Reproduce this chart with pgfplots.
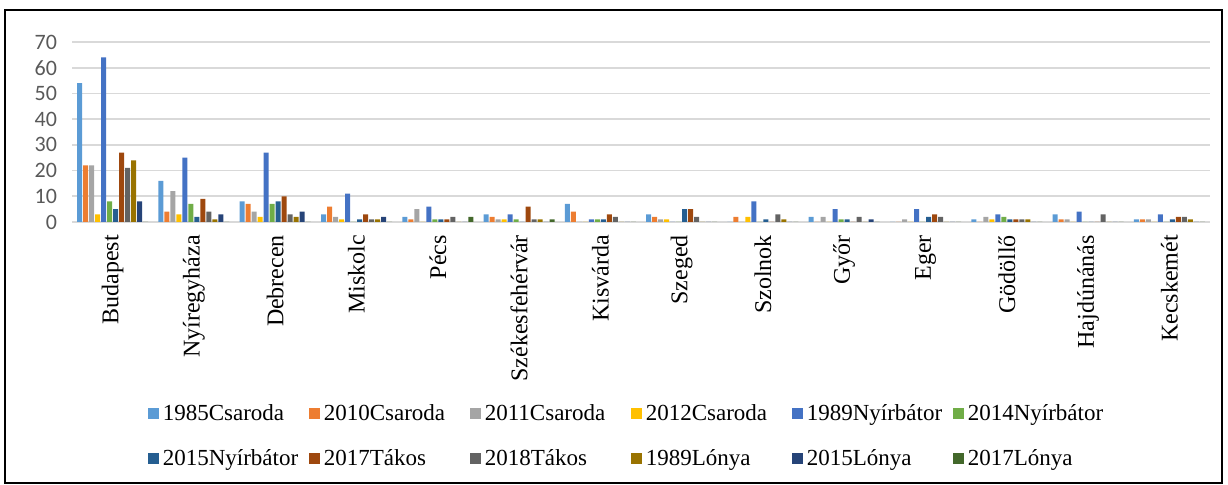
\documentclass[border=0pt]{standalone}
\usepackage{pgfplots}
\pgfplotsset{compat=1.18}
\usepackage{pgfplotstable}
\usepackage{fontspec}
\setmainfont{Liberation Serif}
\newfontfamily\tickfont{Carlito}

\definecolor{cA}{HTML}{5B9BD5}
\definecolor{cB}{HTML}{ED7D31}
\definecolor{cC}{HTML}{A5A5A5}
\definecolor{cD}{HTML}{FFC000}
\definecolor{cE}{HTML}{4472C4}
\definecolor{cF}{HTML}{70AD47}
\definecolor{cG}{HTML}{255E91}
\definecolor{cH}{HTML}{9E480E}
\definecolor{cI}{HTML}{636363}
\definecolor{cJ}{HTML}{997300}
\definecolor{cK}{HTML}{264478}
\definecolor{cL}{HTML}{43682B}
\definecolor{gridgray}{HTML}{D9D9D9}
\definecolor{tickgray}{HTML}{595959}

% columns: 1985Csaroda 2010Csaroda 2011Csaroda 2012Csaroda 1989Nyirbator 2014Nyirbator
%          2015Nyirbator 2017Takos 2018Takos 1989Lonya 2015Lonya 2017Lonya
\pgfplotstableread{
x  a  b  c  d  e  f  g  h  i  j  k  l
0  54 22 22 3  64 8  5  27 21 24 8  0
1  16 4  12 3  25 7  2  9  4  1  3  0
2  8  7  4  2  27 7  8  10 3  2  4  0
3  3  6  2  1  11 0  1  3  1  1  2  0
4  2  1  5  0  6  1  1  1  2  0  0  2
5  3  2  1  1  3  1  0  6  1  1  0  1
6  7  4  0  0  1  1  1  3  2  0  0  0
7  3  2  1  1  0  0  5  5  2  0  0  0
8  0  2  0  2  8  0  1  0  3  1  0  0
9  2  0  2  0  5  1  1  0  2  0  1  0
10 0  0  1  0  5  0  2  3  2  0  0  0
11 1  0  2  1  3  2  1  1  1  1  0  0
12 3  1  1  0  4  0  0  0  3  0  0  0
13 1  1  1  0  3  0  1  2  2  1  0  0
}\cities

\begin{document}
\begin{tikzpicture}
\begin{axis}[
    scale only axis,
    width=569pt, height=90pt,
    ybar=0.5pt, bar width=2.5pt,
    ymin=0, ymax=70, ytick={0,10,...,70},
    xmin=-0.5, xmax=13.5,
    xtick={0,...,13},
    xticklabels={Budapest,Nyíregyháza,Debrecen,Miskolc,Pécs,Székesfehérvár,Kisvárda,Szeged,Szolnok,Győr,Eger,Gödöllő,Hajdúnánás,Kecskemét},
    x tick label style={rotate=90, anchor=east, font=\fontsize{12}{14}\selectfont},
    xticklabel shift=3pt,
    y tick label style={font=\fontsize{11}{13}\selectfont\tickfont, text=tickgray},
    yticklabel shift=4pt,
    /pgf/number format/assume math mode=true,
    ymajorgrids=true,
    major grid style={gridgray, line width=0.9pt},
    axis line style={draw=none},
    major tick length=0pt,
    legend columns=6,
    legend style={
        at={(0.061,-0.965)}, anchor=north west,
        draw=none, fill=none,
        font=\fontsize{11.5}{13}\selectfont,
        row sep=9pt,
        /tikz/every even column/.append style={text width=71pt, inner sep=1pt},
    },
    legend cell align={left},
    legend image code/.code={\fill[#1] (0pt,-2.75pt) rectangle (5.5pt,2.75pt);},
    clip=false,
]
\addplot[fill=cA, draw=none] table[x=x, y=a] {\cities};
\addplot[fill=cB, draw=none] table[x=x, y=b] {\cities};
\addplot[fill=cC, draw=none] table[x=x, y=c] {\cities};
\addplot[fill=cD, draw=none] table[x=x, y=d] {\cities};
\addplot[fill=cE, draw=none] table[x=x, y=e] {\cities};
\addplot[fill=cF, draw=none] table[x=x, y=f] {\cities};
\addplot[fill=cG, draw=none] table[x=x, y=g] {\cities};
\addplot[fill=cH, draw=none] table[x=x, y=h] {\cities};
\addplot[fill=cI, draw=none] table[x=x, y=i] {\cities};
\addplot[fill=cJ, draw=none] table[x=x, y=j] {\cities};
\addplot[fill=cK, draw=none] table[x=x, y=k] {\cities};
\addplot[fill=cL, draw=none] table[x=x, y=l] {\cities};
\legend{1985Csaroda,2010Csaroda,2011Csaroda,2012Csaroda,1989Nyírbátor,2014Nyírbátor,2015Nyírbátor,2017Tákos,2018Tákos,1989Lónya,2015Lónya,2017Lónya}
\end{axis}
% outer chart frame and page extent
\path (-36pt,-131.5pt) rectangle (578pt,111pt);
\draw[black, line width=0.6pt] (-33.5pt,-130.5pt) rectangle (575pt,106pt);
\end{tikzpicture}
\end{document}
